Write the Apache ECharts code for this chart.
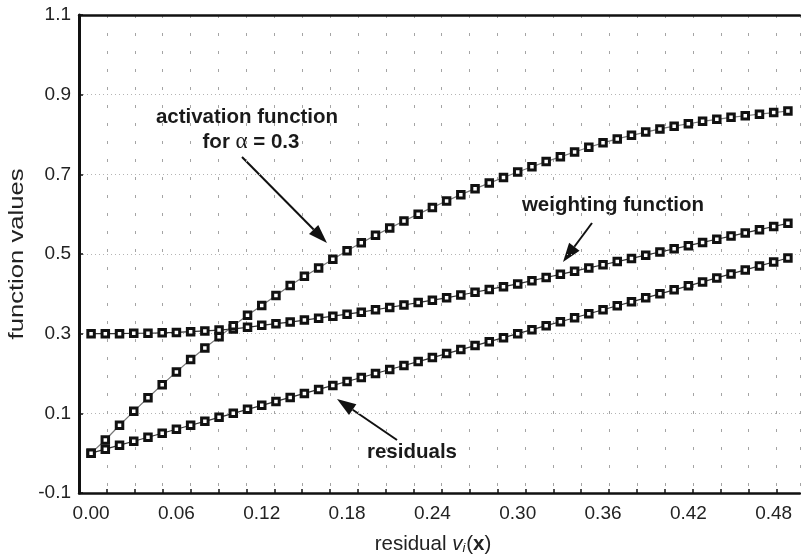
<!DOCTYPE html>
<html>
<head>
<meta charset="utf-8">
<script src="https://cdn.jsdelivr.net/npm/echarts@6/dist/echarts.min.js"></script>
<style>
  html, body { margin: 0; padding: 0; background: #fff; }
  #chart { width: 801px; height: 555px; }
</style>
</head>
<body>
<div id="chart"></div>
<script>
// residual v_i(x) sampled every 0.01
const residualX = [
  0.00, 0.01, 0.02, 0.03, 0.04, 0.05, 0.06, 0.07, 0.08, 0.09,
  0.10, 0.11, 0.12, 0.13, 0.14, 0.15, 0.16, 0.17, 0.18, 0.19,
  0.20, 0.21, 0.22, 0.23, 0.24, 0.25, 0.26, 0.27, 0.28, 0.29,
  0.30, 0.31, 0.32, 0.33, 0.34, 0.35, 0.36, 0.37, 0.38, 0.39,
  0.40, 0.41, 0.42, 0.43, 0.44, 0.45, 0.46, 0.47, 0.48, 0.49
];

const residuals = [
  0.000, 0.010, 0.020, 0.030, 0.040, 0.050, 0.060, 0.070, 0.080, 0.090,
  0.100, 0.110, 0.120, 0.130, 0.140, 0.150, 0.160, 0.170, 0.180, 0.190,
  0.200, 0.210, 0.220, 0.230, 0.240, 0.250, 0.260, 0.270, 0.280, 0.290,
  0.300, 0.310, 0.320, 0.330, 0.340, 0.350, 0.360, 0.370, 0.380, 0.390,
  0.400, 0.410, 0.420, 0.430, 0.440, 0.450, 0.460, 0.470, 0.480, 0.490
];

const weighting = [
  0.300, 0.300, 0.300, 0.301, 0.301, 0.302, 0.303, 0.305, 0.307, 0.309,
  0.312, 0.316, 0.321, 0.325, 0.329, 0.334, 0.339, 0.344, 0.349, 0.354,
  0.360, 0.366, 0.372, 0.378, 0.384, 0.390, 0.397, 0.404, 0.411, 0.418,
  0.425, 0.433, 0.441, 0.449, 0.457, 0.465, 0.473, 0.481, 0.489, 0.497,
  0.505, 0.513, 0.521, 0.529, 0.537, 0.545, 0.553, 0.561, 0.569, 0.577
];

const activation = [
  0.000, 0.033, 0.070, 0.105, 0.139, 0.172, 0.204, 0.235, 0.264, 0.292,
  0.320, 0.346, 0.371, 0.396, 0.421, 0.444, 0.465, 0.487, 0.508, 0.528,
  0.547, 0.565, 0.583, 0.600, 0.617, 0.633, 0.649, 0.664, 0.678, 0.692,
  0.706, 0.719, 0.732, 0.744, 0.756, 0.768, 0.779, 0.789, 0.798, 0.806,
  0.814, 0.821, 0.827, 0.833, 0.838, 0.843, 0.847, 0.851, 0.855, 0.859
];

const xTickLabels = [0.00, 0.06, 0.12, 0.18, 0.24, 0.30, 0.36, 0.42, 0.48];
const yTickLabels = [-0.1, 0.1, 0.3, 0.5, 0.7, 0.9, 1.1];

const X_MIN = -0.0085, X_MAX = 0.4985;
// vertical grid runs on its own unit axis (one unit per grid column)
const GRID_MIN = -1, GRID_MAX = 24.84;
const gridUnits = [];
for (let k = 0; k <= 24; k++) gridUnits.push(k);
const bottomTicks = gridUnits.map(k =>
  X_MIN + (k - GRID_MIN) / (GRID_MAX - GRID_MIN) * (X_MAX - X_MIN));

const FONT = '"Liberation Sans", Arial, Helvetica, sans-serif';

function pairs(ys) { return residualX.map((x, i) => [x, ys[i]]); }

function arrow(x1, y1, x2, y2) {
  const dx = x2 - x1, dy = y2 - y1;
  const len = Math.sqrt(dx * dx + dy * dy);
  const ux = dx / len, uy = dy / len;
  const headLen = 19, headHalf = 6.5;
  const bx = x2 - ux * headLen, by = y2 - uy * headLen;
  return [
    { type: 'line', silent: true,
      shape: { x1: x1, y1: y1, x2: bx, y2: by },
      style: { stroke: '#111', lineWidth: 2 } },
    { type: 'polygon', silent: true,
      shape: { points: [[x2, y2],
                        [bx - uy * headHalf, by + ux * headHalf],
                        [bx + uy * headHalf, by - ux * headHalf]] },
      style: { fill: '#111' } }
  ];
}

const markerSeries = (name, ys, lineColor) => ({
  name: name,
  type: 'line',
  xAxisIndex: 0,
  yAxisIndex: 0,
  data: pairs(ys),
  symbol: 'rect',
  symbolSize: 6.5,
  showAllSymbol: true,
  lineStyle: { color: lineColor, width: 1.2 },
  itemStyle: { color: '#fff', borderColor: '#111', borderWidth: 3 },
  emphasis: { disabled: true },
  animation: false
});

const chart = echarts.init(document.getElementById('chart'), null, { renderer: 'canvas' });

chart.setOption({
  backgroundColor: '#fff',
  animation: false,
  grid: { left: 79, right: 1, top: 15, bottom: 62, containLabel: false },
  xAxis: [
    {
      type: 'value', position: 'bottom', min: X_MIN, max: X_MAX,
      axisLine: { show: true, onZero: false, lineStyle: { color: '#111', width: 2.5 } },
      axisTick: { show: true, inside: true, length: 4, customValues: bottomTicks,
                  lineStyle: { color: '#111', width: 1.5 } },
      axisLabel: { show: true, customValues: xTickLabels, margin: 11,
                   fontFamily: FONT, fontSize: 19, color: '#222',
                   formatter: v => v.toFixed(2) },
      splitLine: { show: false }
    },
    {
      type: 'value', position: 'top', min: GRID_MIN, max: GRID_MAX, interval: 1,
      axisLine: { show: true, onZero: false, lineStyle: { color: '#111', width: 2.5 } },
      axisTick: { show: false },
      axisLabel: { show: false },
      splitLine: { show: true, lineStyle: { color: '#a4a4a4', width: 1, type: [3, 15] } }
    }
  ],
  yAxis: [
    {
      type: 'value', position: 'left', min: -0.1, max: 1.1,
      axisLine: { show: true, onZero: false, lineStyle: { color: '#111', width: 3 } },
      axisTick: { show: true, inside: true, length: 4, customValues: yTickLabels,
                  lineStyle: { color: '#111', width: 1.5 } },
      axisLabel: { show: true, customValues: yTickLabels, margin: 8,
                   fontFamily: FONT, fontSize: 19, color: '#222',
                   formatter: v => v.toFixed(1) },
      splitLine: { show: false }
    },
    {
      type: 'value', position: 'left', min: 0, max: 6, interval: 1,
      axisLine: { show: false, onZero: false }, axisTick: { show: false },
      axisLabel: { show: false },
      splitLine: { show: true, lineStyle: { color: '#b4b4b4', width: 1, type: [1, 3] } }
    }
  ],
  series: [
    markerSeries('residuals', residuals, '#333'),
    markerSeries('weighting function', weighting, '#333'),
    markerSeries('activation function', activation, '#777')
  ],
  graphic: [
    { type: 'text', silent: true, x: 17, y: 254, rotation: Math.PI / 2,
      scaleX: 1.22, scaleY: 1,
      style: { text: 'function values', font: '21px ' + FONT, fill: '#222',
               textAlign: 'center', textVerticalAlign: 'middle' } },
    { type: 'text', silent: true, x: 433, y: 544,
      style: {
        text: '{r|residual }{v|v}{s|i}{r|(}{x|x}{r|)}',
        textAlign: 'center', textVerticalAlign: 'middle', fill: '#222',
        rich: {
          r: { fontFamily: FONT, fontSize: 20.5, fill: '#222' },
          v: { fontFamily: FONT, fontSize: 20.5, fontStyle: 'italic', fill: '#222' },
          s: { fontFamily: FONT, fontSize: 13, fontStyle: 'italic', fill: '#222',
               verticalAlign: 'bottom', padding: [8, 1, 0, 0] },
          x: { fontFamily: FONT, fontSize: 20.5, fontWeight: 'bold', fill: '#222' }
        }
      } },
    { type: 'text', silent: true, x: 247, y: 117,
      style: { text: 'activation function', font: 'bold 20.5px ' + FONT, fill: '#1a1a1a',
               textAlign: 'center', textVerticalAlign: 'middle' } },
    { type: 'text', silent: true, x: 251, y: 142,
      style: {
        text: '{b|for }{a|α}{b| = 0.3}',
        textAlign: 'center', textVerticalAlign: 'middle',
        rich: {
          b: { fontFamily: FONT, fontSize: 20.5, fontWeight: 'bold', fill: '#1a1a1a' },
          a: { fontFamily: '"Liberation Serif", "DejaVu Serif", serif', fontSize: 23,
               fill: '#1a1a1a' }
        }
      } },
    { type: 'text', silent: true, x: 613, y: 205,
      style: { text: 'weighting function', font: 'bold 20.5px ' + FONT, fill: '#1a1a1a',
               textAlign: 'center', textVerticalAlign: 'middle' } },
    { type: 'text', silent: true, x: 412, y: 452,
      style: { text: 'residuals', font: 'bold 20.5px ' + FONT, fill: '#1a1a1a',
               textAlign: 'center', textVerticalAlign: 'middle' } }
  ]
    .concat(arrow(242, 157, 327, 243))
    .concat(arrow(592, 223, 563, 262))
    .concat(arrow(397, 440, 337, 399))
});
</script>
</body>
</html>
